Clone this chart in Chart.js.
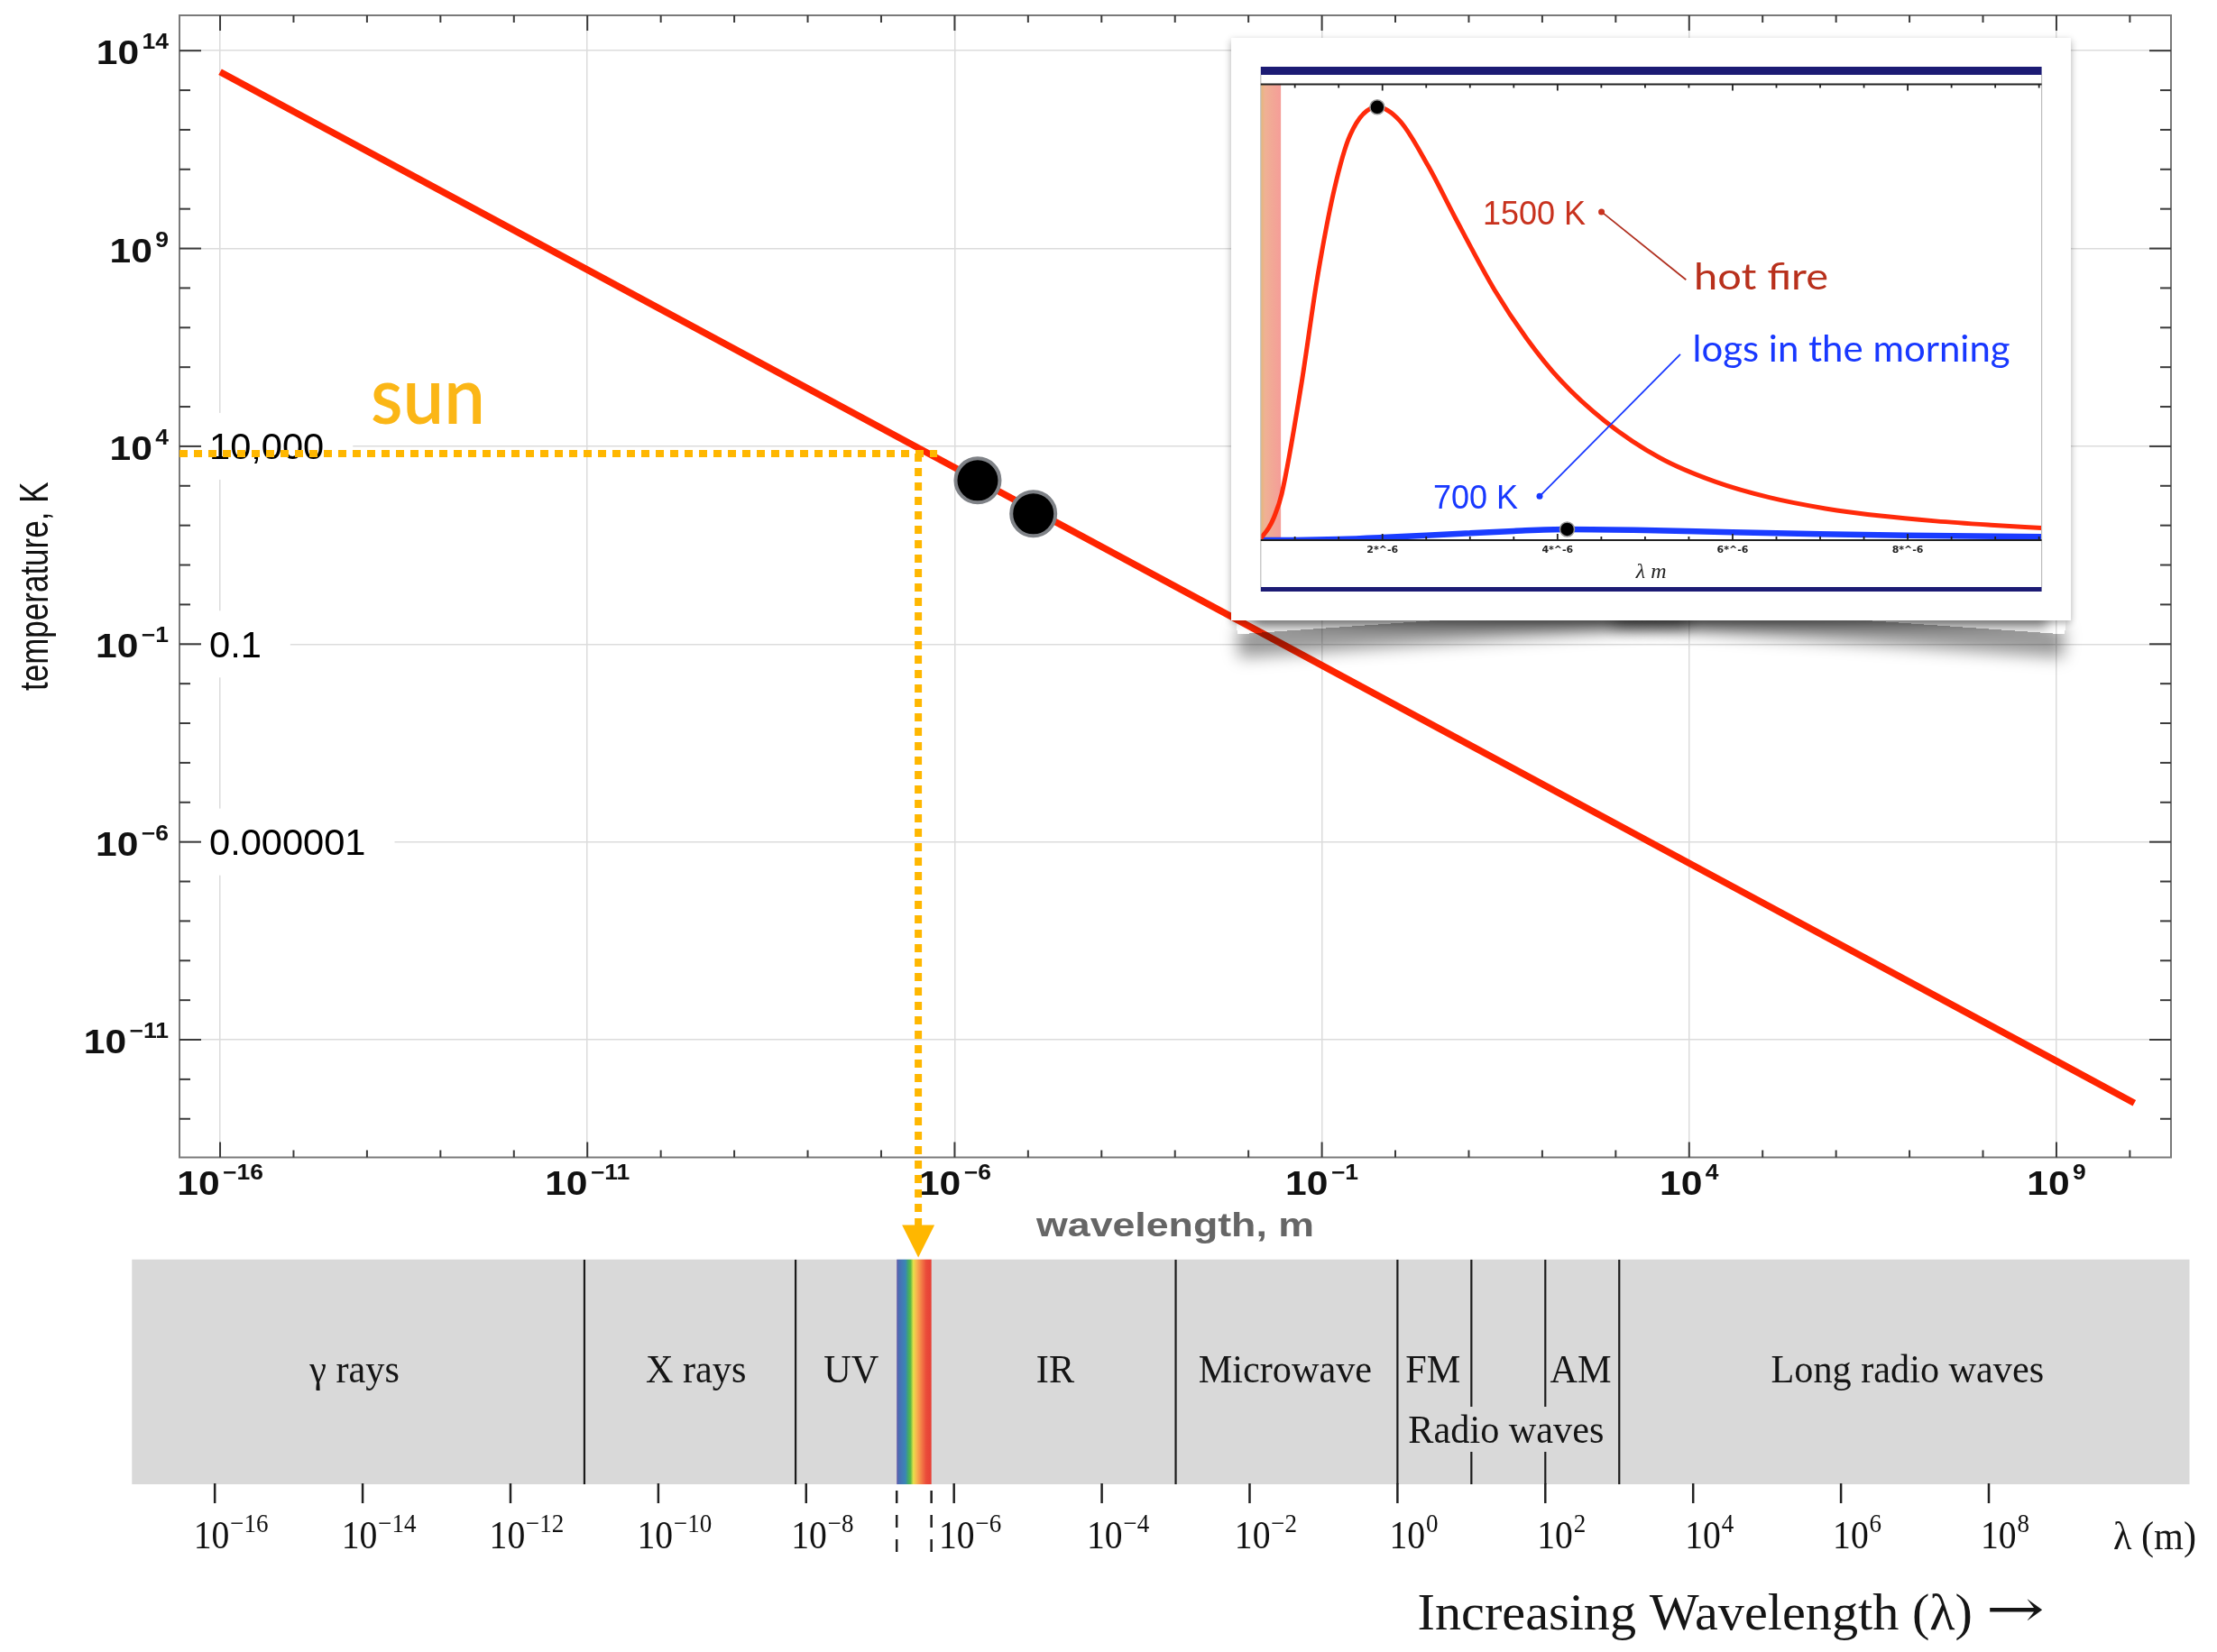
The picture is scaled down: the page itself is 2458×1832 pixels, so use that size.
<!DOCTYPE html>
<html>
<head>
<meta charset="utf-8">
<title>Wien's law - temperature vs wavelength</title>
<script src="https://cdn.jsdelivr.net/npm/chart.js@4.4.1/dist/chart.umd.min.js"></script>
<style>
    body { margin: 0; background: #fff; }
    #pagina { position: relative; width: 2458px; height: 1832px; overflow: hidden; background: #fff; }
    .camada { position: absolute; }
    #espectroBox { left: 0; top: 1380px; width: 2458px; height: 452px; }
    #principalBox { left: 0; top: 0; width: 2458px; height: 1400px; }
    .lift { position: absolute; top: 652px; width: 500px; height: 34px; box-shadow: 0 26px 18px rgba(0, 0, 0, 0.4); }
    #liftL { left: 1370px; transform: rotate(-4deg); }
    #liftR { left: 1791px; transform: rotate(4deg); }
    #liftM { position: absolute; left: 1390px; top: 640px; width: 880px; height: 46px; box-shadow: 0 12px 12px rgba(0, 0, 0, 0.35); }
    #card { left: 1365px; top: 42px; width: 931px; height: 646px; background: #fff; box-shadow: 0 3px 8px rgba(0, 0, 0, 0.32); }
</style>
</head>
<body>
<div id="pagina">
    <div class="camada" id="espectroBox"><canvas id="graficoEspectro"></canvas></div>
    <div class="camada" id="principalBox"><canvas id="graficoPrincipal"></canvas></div>
    <div id="liftM"></div>
    <div class="lift" id="liftL"></div>
    <div class="lift" id="liftR"></div>
    <div class="camada" id="card"><canvas id="graficoInset"></canvas></div>
</div>
<script>
// ---------- data ----------

// Wien's displacement line: peak wavelength (m) -> temperature (K)
const wavelengths = [1e-16, 1e-11, 1e-6, 1e-1, 1e4, 1e9, 1.15e10];
const temperatures = [2.9e13, 2.9e8, 2900, 0.029, 2.9e-7, 2.9e-12, 2.5e-13];

// the two big black dots on the line
const dotWavelengths = [2.06e-6, 1.18e-5];
const dotTemperatures = [1370, 197];

// sun marker (orange dotted guide)
const sunWavelength = 3.2e-7;
const sunTemperature = 6500;

// tick labels (powers of ten) and the plain-number labels
const xTickExps = [-16, -11, -6, -1, 4, 9];
const yTickExps = [14, 9, 4, -1, -6, -11];
const plainLabels = ['10,000', '0.1', '0.000001'];
const plainLabelValues = [1e4, 1e-1, 1e-6];

// inset: blackbody curves, relative intensity vs wavelength (micrometres)
const hotLambda = [0.61, 0.70, 0.76, 0.85, 1.07, 1.26, 1.45, 1.63, 1.94, 2.20, 2.52, 2.83, 3.28, 3.65, 4.03, 4.54, 5.17, 5.80, 6.43, 7.06, 7.69, 8.32, 8.95, 9.53];
const hotValue = [0.004, 0.028, 0.052, 0.107, 0.355, 0.61, 0.81, 0.935, 1.0, 0.968, 0.865, 0.745, 0.578, 0.465, 0.37, 0.275, 0.19, 0.135, 0.098, 0.073, 0.056, 0.044, 0.035, 0.028];
const coolLambda = [0.61, 1.0, 1.5, 2.0, 2.5, 3.0, 3.5, 4.1, 5.0, 6.0, 7.0, 8.0, 9.53];
const coolValue = [0, 0.0002, 0.002, 0.006, 0.011, 0.016, 0.021, 0.025, 0.023, 0.018, 0.014, 0.011, 0.008];
const peakLambda = [1.94, 4.11];
const peakValue = [1.0, 0.025];
const insetTickValues = [2, 4, 6, 8];
const insetShade = [0.61, 0.84];

// EM spectrum strip
const bandNames = ['γ rays', 'X rays', 'UV', 'IR', 'Microwave', 'FM', 'AM', 'Long radio waves'];
const bandEdges = [1e-11, 7.2e-9, 1e-3, 1, 10, 100, 1000];
const visibleRange = [1.68e-7, 4.95e-7];
const specTickExps = [-16, -14, -12, -10, -8, -6, -4, -2, 0, 2, 4, 6, 8];

// ---------- helpers ----------

Chart.defaults.font.family = '"Liberation Sans", Arial, sans-serif';
Chart.defaults.animation = false;

function isMajorExp(k) {
    return ((k % 5) + 5) % 5 === 4;
}

function decades(lo, hi) {
    const lista = [];
    for (let k = lo; k <= hi; k++) lista.push(k);
    return lista;
}

// text squeezed/stretched horizontally
function stretchText(ctx, text, x, y, sx, align) {
    const w = ctx.measureText(text).width * sx;
    let left = x;
    if (align === 'center') left = x - w / 2;
    if (align === 'right') left = x - w;
    ctx.save();
    ctx.translate(left, y);
    ctx.scale(sx, 1);
    ctx.textAlign = 'left';
    ctx.fillText(text, 0, 0);
    ctx.restore();
    return w;
}

function fitText(ctx, text, x, y, width) {
    const sx = width / ctx.measureText(text).width;
    stretchText(ctx, text, x, y, sx, 'left');
}

// "10" with a raised exponent
function drawPower(ctx, exp, x, y, align, st) {
    const sup = exp < 0 ? '\u2212' + Math.abs(exp) : String(exp);
    ctx.font = st.base;
    const w1 = ctx.measureText('10').width;
    ctx.font = st.sup;
    const w2 = ctx.measureText(sup).width;
    const total = (w1 + st.gap + w2) * st.sx;
    let left = x;
    if (align === 'center') left = x - total / 2;
    if (align === 'right') left = x - total;
    ctx.save();
    ctx.translate(left, y);
    ctx.scale(st.sx, 1);
    ctx.fillStyle = st.color;
    ctx.textAlign = 'left';
    ctx.textBaseline = 'alphabetic';
    ctx.font = st.base;
    ctx.fillText('10', 0, 0);
    ctx.font = st.sup;
    ctx.fillText(sup, w1 + st.gap, -st.rise);
    ctx.restore();
}

function linha(ctx, x1, y1, x2, y2) {
    ctx.beginPath();
    ctx.moveTo(x1, y1);
    ctx.lineTo(x2, y2);
    ctx.stroke();
}

const mainTickStyle = { base: 'bold 37px "Liberation Sans"', sup: 'bold 23px "Liberation Sans"', sx: 1.15, rise: 17, gap: 3, color: '#111' };
const specTickStyle = { base: '44px "Liberation Serif"', sup: '30px "Liberation Serif"', sx: 0.9, rise: 18, gap: 1, color: '#111' };

// ---------- main log-log chart ----------

const mainDecor = {
    id: 'mainDecor',
    beforeDatasetsDraw(chart) {
        // white boxes behind the plain-number labels
        const { ctx, chartArea: a, scales: { y } } = chart;
        ctx.save();
        ctx.font = '40px "Liberation Sans"';
        plainLabelValues.forEach((v, i) => {
            const py = y.getPixelForValue(v);
            const w = ctx.measureText(plainLabels[i]).width * 1.04;
            ctx.fillStyle = '#fff';
            ctx.fillRect(a.left + 23, py - 37, w + 42, 74);
        });
        ctx.restore();
    },
    afterDatasetsDraw(chart) {
        const { ctx, chartArea: a, scales: { x, y } } = chart;
        ctx.save();

        // frame
        ctx.strokeStyle = '#7a7a7a';
        ctx.lineWidth = 2;
        ctx.strokeRect(a.left, a.top, a.right - a.left, a.bottom - a.top);

        // inward ticks on all four sides
        ctx.strokeStyle = '#3a3a3a';
        decades(-17, 11).forEach(k => {
            const v = Math.pow(10, k);
            if (v < x.min || v > x.max) return;
            const px = x.getPixelForValue(v);
            const len = isMajorExp(k) ? 17 : 8;
            linha(ctx, px, a.bottom, px, a.bottom - len);
            linha(ctx, px, a.top, px, a.top + len);
        });
        decades(-14, 15).forEach(k => {
            const v = Math.pow(10, k);
            if (v < y.min || v > y.max) return;
            const py = y.getPixelForValue(v);
            const len = isMajorExp(k) ? 24 : 12;
            linha(ctx, a.left, py, a.left + len, py);
            linha(ctx, a.right, py, a.right - len, py);
        });

        // tick labels
        xTickExps.forEach(k => drawPower(ctx, k, x.getPixelForValue(Math.pow(10, k)), a.bottom + 41.5, 'center', mainTickStyle));
        yTickExps.forEach(k => drawPower(ctx, k, a.left - 12, y.getPixelForValue(Math.pow(10, k)) + 15, 'right', mainTickStyle));

        // axis titles
        ctx.fillStyle = '#111';
        ctx.font = '35px "Liberation Sans"';
        ctx.save();
        ctx.translate(41, (a.top + a.bottom) / 2);
        ctx.scale(1.27, 1);
        ctx.rotate(-Math.PI / 2);
        ctx.textAlign = 'center';
        ctx.textBaseline = 'middle';
        ctx.fillText('temperature, K', 0, 0);
        ctx.restore();

        ctx.fillStyle = '#666';
        ctx.font = 'bold 36px "Liberation Sans"';
        fitText(ctx, 'wavelength, m', (a.left + a.right) / 2 - 154, a.bottom + 87, 308);

        // plain-number labels
        ctx.fillStyle = '#000';
        ctx.font = '40px "Liberation Sans"';
        plainLabelValues.forEach((v, i) => {
            stretchText(ctx, plainLabels[i], a.left + 33, y.getPixelForValue(v) + 14.5, 1.04, 'left');
        });

        // sun guide lines and arrow
        const sx = x.getPixelForValue(sunWavelength);
        const sy = y.getPixelForValue(sunTemperature);
        ctx.fillStyle = '#fbb616';
        ctx.font = '600 88px Lato';
        fitText(ctx, 'sun', a.left + 212, sy - 33, 127);

        ctx.strokeStyle = '#ffb700';
        ctx.lineWidth = 8;
        ctx.setLineDash([9, 7]);
        linha(ctx, a.left, sy, sx + 21, sy);
        linha(ctx, sx, sy, sx, a.bottom + 76);
        ctx.setLineDash([]);
        ctx.fillStyle = '#ffb700';
        ctx.beginPath();
        ctx.moveTo(sx - 18, a.bottom + 75);
        ctx.lineTo(sx + 18, a.bottom + 75);
        ctx.lineTo(sx, a.bottom + 111);
        ctx.closePath();
        ctx.fill();

        ctx.restore();
    }
};

function logAxis(min, max) {
    return {
        type: 'logarithmic',
        bounds: 'data',
        min: min,
        max: max,
        afterBuildTicks: scale => {
            const lo = Math.ceil(Math.log10(scale.min));
            const hi = Math.floor(Math.log10(scale.max));
            scale.ticks = decades(lo, hi).map(k => ({ value: Math.pow(10, k) }));
        },
        afterFit: scale => {
            if (scale.isHorizontal()) scale.height = 0; else scale.width = 0;
        },
        ticks: { display: false },
        border: { display: false },
        grid: {
            drawTicks: false,
            lineWidth: 1.5,
            color: c => (c.tick && isMajorExp(Math.round(Math.log10(c.tick.value)))) ? '#dcdcdc' : 'rgba(0,0,0,0)'
        }
    };
}

function plotarPrincipal() {
    const ctx = document.getElementById('graficoPrincipal').getContext('2d');
    window.graficoPrincipal = new Chart(ctx, {
        type: 'line',
        data: {
            datasets: [{
                label: 'dots',
                data: dotWavelengths.map((w, i) => ({ x: w, y: dotTemperatures[i] })),
                showLine: false,
                pointRadius: 24.5,
                pointBackgroundColor: '#000',
                pointBorderColor: '#7f8287',
                pointBorderWidth: 4,
                order: 0
            }, {
                label: "Wien's law",
                data: wavelengths.map((w, i) => ({ x: w, y: temperatures[i] })),
                borderColor: '#ff2400',
                borderWidth: 7.5,
                borderCapStyle: 'butt',
                pointRadius: 0,
                tension: 0,
                order: 1
            }]
        },
        options: {
            responsive: true,
            maintainAspectRatio: false,
            devicePixelRatio: 1,
            events: [],
            layout: { autoPadding: false, padding: { left: 199, right: 51, top: 17, bottom: 116.5 } },
            scales: {
                x: logAxis(Math.pow(10, -16.553), Math.pow(10, 10.56)),
                y: logAxis(Math.pow(10, -13.974), Math.pow(10, 14.893))
            },
            plugins: { legend: { display: false }, tooltip: { enabled: false } }
        },
        plugins: [mainDecor]
    });
}

// ---------- inset (blackbody curves) ----------

const insetDecor = {
    id: 'insetDecor',
    beforeDatasetsDraw(chart) {
        const { ctx, chartArea: a, scales: { x } } = chart;
        const x0 = x.getPixelForValue(insetShade[0]);
        const x1 = x.getPixelForValue(insetShade[1]);
        const g = ctx.createLinearGradient(x0, 0, x1, 0);
        g.addColorStop(0, '#e2b878');
        g.addColorStop(0.2, '#efb194');
        g.addColorStop(1, '#f59d98');
        ctx.save();
        ctx.fillStyle = g;
        ctx.fillRect(x0, a.top, x1 - x0, a.bottom - a.top);
        ctx.restore();
    },
    afterDatasetsDraw(chart) {
        const { ctx, chartArea: a, scales: { x } } = chart;
        ctx.save();

        // navy bars and side rules
        ctx.fillStyle = '#1c1b74';
        ctx.fillRect(a.left, a.top - 19.5, a.right - a.left, 9);
        ctx.fillRect(a.left, a.bottom + 52, a.right - a.left, 5);
        ctx.strokeStyle = '#bdbdbd';
        ctx.lineWidth = 1.2;
        linha(ctx, a.left, a.top - 10.5, a.left, a.bottom + 52);
        linha(ctx, a.right, a.top - 10.5, a.right, a.bottom + 52);

        // axis lines with inward ticks
        ctx.strokeStyle = '#222';
        ctx.lineWidth = 2;
        linha(ctx, a.left, a.top, a.right, a.top);
        linha(ctx, a.left, a.bottom, a.right, a.bottom);
        ctx.lineWidth = 1.8;
        for (let i = 2; i <= 19; i++) {
            const v = i / 2;
            const px = x.getPixelForValue(v);
            const len = v % 2 === 0 ? 7 : 4;
            linha(ctx, px, a.top, px, a.top + len);
            linha(ctx, px, a.bottom, px, a.bottom - len);
        }

        ctx.fillStyle = '#222';
        ctx.font = 'bold 11px "DejaVu Sans"';
        ctx.textAlign = 'center';
        insetTickValues.forEach(v => ctx.fillText(v + '*^-6', x.getPixelForValue(v), a.bottom + 14));
        ctx.font = 'italic 24px "Liberation Serif"';
        ctx.fillText('λ m', (a.left + a.right) / 2, a.bottom + 42);

        // annotations
        ctx.textAlign = 'left';
        ctx.font = '36px "Liberation Sans"';
        ctx.fillStyle = '#c8321e';
        ctx.fillText('1500 K', 279, 206.6);
        ctx.strokeStyle = '#b03020';
        ctx.lineWidth = 1.8;
        linha(ctx, 410.6, 192.9, 504.3, 268.2);
        ctx.beginPath();
        ctx.arc(410.6, 192.9, 3.5, 0, Math.PI * 2);
        ctx.fill();
        ctx.fillStyle = '#b8301c';
        ctx.font = '40px Lato';
        fitText(ctx, 'hot fire', 513, 279, 149);

        ctx.fillStyle = '#1838ff';
        ctx.strokeStyle = '#1838ff';
        ctx.font = '36px "Liberation Sans"';
        ctx.fillText('700 K', 224, 522);
        linha(ctx, 498, 350.8, 342, 508.3);
        ctx.beginPath();
        ctx.arc(342, 508.3, 3.5, 0, Math.PI * 2);
        ctx.fill();
        ctx.font = '40px Lato';
        fitText(ctx, 'logs in the morning', 511.6, 359, 352);

        ctx.restore();
    }
};

function plotarInset() {
    const ctx = document.getElementById('graficoInset').getContext('2d');
    window.graficoInset = new Chart(ctx, {
        type: 'line',
        data: {
            datasets: [{
                label: 'peaks',
                data: peakLambda.map((l, i) => ({ x: l, y: peakValue[i] })),
                showLine: false,
                pointRadius: 8,
                pointBackgroundColor: '#000',
                pointBorderColor: '#9a9a9a',
                pointBorderWidth: 1.5,
                order: 0
            }, {
                label: '1500 K',
                data: hotLambda.map((l, i) => ({ x: l, y: hotValue[i] })),
                borderColor: '#ff2a0a',
                borderWidth: 5,
                pointRadius: 0,
                cubicInterpolationMode: 'monotone',
                order: 1
            }, {
                label: '700 K',
                data: coolLambda.map((l, i) => ({ x: l, y: coolValue[i] })),
                borderColor: '#1a3cff',
                borderWidth: 6.5,
                pointRadius: 0,
                cubicInterpolationMode: 'monotone',
                order: 2
            }]
        },
        options: {
            responsive: true,
            maintainAspectRatio: false,
            devicePixelRatio: 1,
            events: [],
            layout: { autoPadding: false, padding: { left: 32.8, right: 32.4, top: 51.5, bottom: 89 } },
            scales: {
                x: { type: 'linear', min: 0.61, max: 9.53, display: false },
                y: { type: 'linear', min: 0, max: 1.0526, display: false }
            },
            plugins: { legend: { display: false }, tooltip: { enabled: false } }
        },
        plugins: [insetDecor]
    });
}

// ---------- EM spectrum strip ----------

const bandLabelExp = [-14.11, -9.49, -7.39, -4.63, -1.52, 0.48, 2.48, 6.9];
const radioGap = [0.144, 0.345];

function edgeSegments() {
    const sets = [];
    bandEdges.forEach(e => {
        const pieces = (e > 1 && e < 1000) ? [[0, radioGap[0]], [radioGap[1], 1]] : [[0, 1]];
        pieces.forEach(p => sets.push({
            data: [{ x: e, y: p[0] }, { x: e, y: p[1] }],
            showLine: true,
            borderColor: '#1b1b1b',
            borderWidth: 2.2,
            pointRadius: 0
        }));
    });
    return sets;
}

const specDecor = {
    id: 'specDecor',
    beforeDatasetsDraw(chart) {
        const { ctx, chartArea: a, scales: { x } } = chart;
        ctx.save();
        ctx.fillStyle = '#d9d9d9';
        ctx.fillRect(a.left, a.top, a.right - a.left, a.bottom - a.top);
        const x0 = x.getPixelForValue(visibleRange[0]);
        const x1 = x.getPixelForValue(visibleRange[1]);
        const g = ctx.createLinearGradient(x0, 0, x1, 0);
        const stops = [[0, '#6a5aa8'], [0.06, '#4a6cb4'], [0.25, '#3a86b6'], [0.33, '#42a86a'], [0.4, '#5cba48'],
            [0.48, '#e6e04a'], [0.58, '#f7b24e'], [0.72, '#f27a46'], [0.85, '#ea4b3a'], [1, '#e63f35']];
        stops.forEach(s => g.addColorStop(s[0], s[1]));
        ctx.fillStyle = g;
        ctx.fillRect(x0, a.top, x1 - x0, a.bottom - a.top);
        ctx.restore();
    },
    afterDatasetsDraw(chart) {
        const { ctx, chartArea: a, scales: { x } } = chart;
        ctx.save();
        ctx.strokeStyle = '#222';
        ctx.lineWidth = 2.5;
        specTickExps.forEach(k => {
            const px = x.getPixelForValue(Math.pow(10, k));
            linha(ctx, px, a.bottom - 1, px, a.bottom + 21);
            drawPower(ctx, k, px + 18, a.bottom + 71, 'center', specTickStyle);
        });
        ctx.setLineDash([14, 13]);
        visibleRange.forEach(v => {
            const px = x.getPixelForValue(v);
            linha(ctx, px, a.bottom + 7, px, a.bottom + 76);
        });
        ctx.setLineDash([]);

        ctx.fillStyle = '#151515';
        ctx.font = '44px "Liberation Serif"';
        bandNames.forEach((n, i) => {
            stretchText(ctx, n, x.getPixelForValue(Math.pow(10, bandLabelExp[i])), a.top + 136, 0.96, 'center');
        });
        stretchText(ctx, 'Radio waves', x.getPixelForValue(Math.pow(10, 1.47)), a.top + 203, 0.96, 'center');
        stretchText(ctx, 'λ (m)', 2343, a.bottom + 72, 0.96, 'left');
        ctx.font = '58px "Liberation Serif"';
        fitText(ctx, 'Increasing Wavelength (λ)', 1571.5, 427, 615.5);
        ctx.font = '58px "DejaVu Serif"';
        fitText(ctx, '\u2192', 2201.7, 424, 65);
        ctx.restore();
    }
};

function plotarEspectro() {
    const ctx = document.getElementById('graficoEspectro').getContext('2d');
    window.graficoEspectro = new Chart(ctx, {
        type: 'scatter',
        data: { datasets: edgeSegments() },
        options: {
            responsive: true,
            maintainAspectRatio: false,
            devicePixelRatio: 1,
            events: [],
            layout: { autoPadding: false, padding: { left: 146.3, right: 30.5, top: 16.7, bottom: 186 } },
            scales: {
                x: { type: 'logarithmic', bounds: 'data', min: Math.pow(10, -17.121), max: Math.pow(10, 10.715), display: false },
                y: { type: 'linear', min: 0, max: 1, display: false }
            },
            plugins: { legend: { display: false }, tooltip: { enabled: false } }
        },
        plugins: [specDecor]
    });
}

plotarEspectro();
plotarPrincipal();
plotarInset();
</script>
</body>
</html>
